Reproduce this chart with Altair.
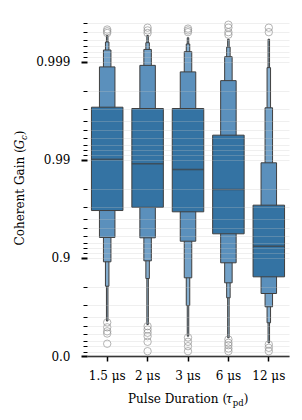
import math
import altair as alt
import pandas as pd

# ---------------- data ----------------
categories = ["1.5 μs", "2 μs", "3 μs", "6 μs", "12 μs"]

# letter-value boxes: level 1 = quartile box, then 8ths, 16ths, 32nds, 64ths
medians = [0.9901, 0.98904, 0.98744, 0.9799, 0.9240]
q_lo = [0.9671, 0.9695, 0.9661, 0.9432, 0.8441]
q_hi = [0.99709, 0.9970, 0.9970, 0.99439, 0.9710]
l2_lo = [0.9381, 0.9376, 0.9324, 0.8878, 0.7693]
l2_hi = [0.99887, 0.99891, 0.99873, 0.99844, 0.98927]
l3_lo = [0.8904, 0.8929, 0.8404, 0.8206, 0.685]
l3_hi = [0.99924, 0.99925, 0.99921, 0.99911, 0.99705]
l4_lo = [0.8057, 0.8378, 0.6943, 0.7449, 0.5413]
l4_hi = [0.99937, 0.99936, 0.99934, 0.99929, 0.99885]
l5_lo = [0.560, 0.5225, 0.372, 0.3477, 0.2666]
l5_hi = [0.99946, 0.99946, 0.99943, 0.99941, 0.99941]

outlier_cat = (["1.5 μs"] * 8 + ["2 μs"] * 9 + ["3 μs"] * 7 + ["6 μs"] * 9 + ["12 μs"] * 5)
outlier_val = [
    0.99949, 0.99951, 0.99953, 0.545, 0.49, 0.44, 0.41, 0.25,
    0.99949, 0.99952, 0.99955, 0.503, 0.463, 0.420, 0.372, 0.2835, 0.1065,
    0.9995, 0.99952, 0.99954, 0.352, 0.2835, 0.2055, 0.1065,
    0.99947, 0.9995, 0.99955, 0.99958, 0.321, 0.2666, 0.224, 0.1614, 0.1065,
    0.9995, 0.99955, 0.2366, 0.175, 0.1065,
]

major_gain = [0.0, 0.9, 0.99, 0.999]
major_labels = ["0.0", "0.9", "0.99", "0.999"]

# ---------------- styling ----------------
FONT = "DejaVu Serif"
EDGE = "#3f3f3f"
level_colors = ["#3473a3", "#5b90bc", "#72a1c8", "#85aecf", "#98bbd6"]
level_widths = [31.5, 15.5, 7.5, 3.5, 1.5]
TOP = 3.425  # -log10(1-G) at the top of the plot

# axis tick positions in transformed space t = -log10(1 - G)
major_t = [int(round(-math.log10(1 - g))) for g in major_gain]
minor_t = []
for d in range(4):
    for k in range(2, 10):
        t = d + 1 - math.log10(k)
        if t <= TOP:
            minor_t.append(round(t, 6))
tick_vals = sorted(major_t + minor_t)

label_expr = " : ".join(
    f"datum.value === {t} ? '{lab}'" for t, lab in zip(major_t, major_labels)
) + " : ''"

yscale = alt.Scale(domain=[0, TOP], nice=False, zero=False)
xscale = alt.Scale(domain=categories, paddingInner=0, paddingOuter=0)

yaxis = alt.Axis(
    title=None, values=tick_vals, labelExpr=label_expr,
    grid=True, gridColor="#c4c4c4", gridOpacity=0.28, gridWidth=1,
    domain=False, tickSize=6, tickColor="black",
    tickWidth={"condition": {"test": "datum.value % 1 === 0", "value": 2}, "value": 1},
    tickDash={"condition": {"test": "datum.value % 1 !== 0", "value": [4, 20]}, "value": [6, 0]},
    labelFont=FONT, labelFontSize=12, labelColor="black", labelPadding=11,
    zindex=1,
)
xaxis = alt.Axis(
    title=None, labelAngle=0, labelFont=FONT, labelFontSize=12, labelColor="black",
    tickSize=5, tickWidth=1.5, tickColor="black", domainColor="black",
    domainWidth=1.5, labelPadding=9, grid=False,
)

X = alt.X("cat:N", sort=categories, scale=xscale, axis=xaxis)
Y = alt.Y("t:Q", scale=yscale, axis=yaxis)

tcalc = "-log(1 - datum.g) / LN10"

levels = [(q_lo, q_hi), (l2_lo, l2_hi), (l3_lo, l3_hi), (l4_lo, l4_hi), (l5_lo, l5_hi)]
layers = []
# outer levels first, quartile box on top
for i in reversed(range(len(levels))):
    lo, hi = levels[i]
    df = pd.DataFrame({"cat": categories, "g": lo, "g2": hi})
    layers.append(
        alt.Chart(df).transform_calculate(
            t=tcalc, t2="-log(1 - datum.g2) / LN10"
        ).mark_bar(
            size=level_widths[i], fillOpacity=1, stroke=EDGE, strokeWidth=1
        ).encode(x=X, y=Y, y2="t2:Q", fill=alt.value(level_colors[i]))
    )

med_df = pd.DataFrame({"cat": categories, "g": medians})
layers.append(
    alt.Chart(med_df).transform_calculate(t=tcalc)
    .mark_tick(size=31.5, thickness=1.6, color=EDGE)
    .encode(x=X, y=Y)
)

out_df = pd.DataFrame({"cat": outlier_cat, "g": outlier_val})
layers.append(
    alt.Chart(out_df).transform_calculate(t=tcalc)
    .mark_point(shape="circle", filled=False, size=55, color="#909090",
                strokeWidth=0.8, opacity=0.85)
    .encode(x=X, y=Y)
)

# axis titles with italic symbol and subscript
def txt(s, x, y, size=12, angle=0, style="normal", baseline="alphabetic"):
    return alt.Chart(pd.DataFrame({"s": [s]})).mark_text(
        font=FONT, fontSize=size, fontStyle=style, color="black",
        align="left", baseline=baseline, angle=angle,
    ).encode(text="s:N", x=alt.value(x), y=alt.value(y))

# y title (rotated, reads bottom to top)
yt_x = -67
layers += [
    txt("Coherent Gain (", yt_x, 225.5, angle=270, baseline="middle"),
    txt("G", yt_x, 129.3, angle=270, style="italic", baseline="middle"),
    txt("c", yt_x + 3.5, 120.0, size=8.5, angle=270, style="italic", baseline="middle"),
    txt(")", yt_x, 115.2, angle=270, baseline="middle"),
]
# x title
xt_y = 382.7
layers += [
    txt("Pulse Duration (", 41, xt_y),
    txt("τ", 138.8, xt_y, style="italic"),
    txt("pd", 145.8, xt_y + 3, size=8.5),
    txt(")", 156.7, xt_y),
]

chart = alt.layer(*layers).properties(
    width=202, height=336,
    autosize=alt.AutoSizeParams(type="none"),
    padding={"left": 79, "top": 12, "right": 5, "bottom": 56},
    background="white",
).configure_view(stroke=None)

chart.save("out.html", embed_options={"renderer": "svg", "actions": False})
